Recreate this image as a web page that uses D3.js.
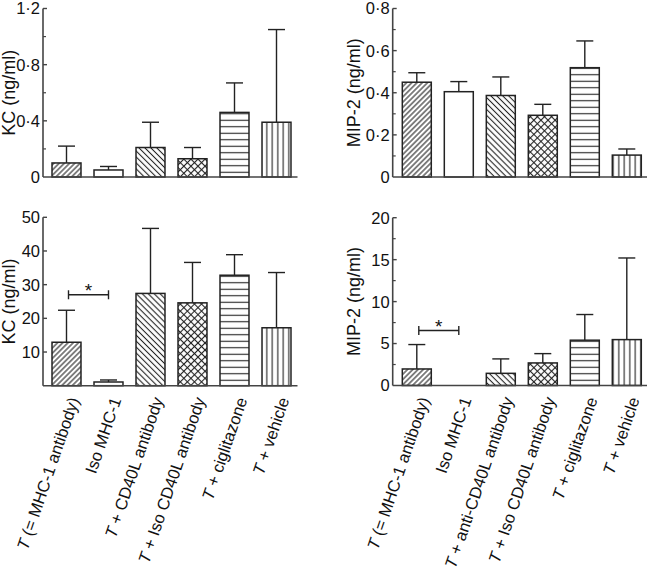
<!DOCTYPE html>
<html><head><meta charset="utf-8">
<script src="https://cdn.jsdelivr.net/npm/d3@7"></script>
<style>
body{margin:0;background:#fff;}
svg{display:block;font-family:"Liberation Sans",Arial,Helvetica,sans-serif;}
</style></head>
<body><svg id="c" width="647" height="573"></svg>
<script>
// ---- data ----
const groups = ["g1","g2","g3","g4","g5","g6"];
const labelsLeft = ["(= MHC-1 antibody)", "Iso MHC-1", "+ CD40L antibody", "+ Iso CD40L antibody", "+ ciglitazone", "+ vehicle"];
const labelsRight = ["(= MHC-1 antibody)", "Iso MHC-1", "+ anti-CD40L antibody", "+ Iso CD40L antibody", "+ ciglitazone", "+ vehicle"];
const italicT = [true, false, true, true, true, true];
const patterns = ["fwd","none","back","cross","horiz","vert"];

const kcTopMean = [0.10, 0.05, 0.21, 0.13, 0.46, 0.39];
const kcTopSem  = [0.12, 0.025, 0.18, 0.08, 0.21, 0.66];
const mipTopMean = [0.45, 0.405, 0.387, 0.293, 0.519, 0.104];
const mipTopSem  = [0.045, 0.048, 0.088, 0.052, 0.127, 0.029];
const kcBotMean = [12.9, 1.1, 27.4, 24.6, 32.8, 17.2];
const kcBotSem  = [9.5, 0.6, 19.3, 12.0, 6.1, 16.4];
const mipBotMean = [1.97, 0, 1.45, 2.69, 5.4, 5.47];
const mipBotSem  = [2.91, 0, 1.72, 1.11, 3.06, 9.73];

const kcTopTicks = [0, 0.4, 0.8, 1.2];
const kcTopMinor = [0.2, 0.6, 1.0];
const mipTopTicks = [0, 0.2, 0.4, 0.6, 0.8];
const mipTopMinor = [0.1, 0.3, 0.5, 0.7];
const kcBotTicks = [10, 20, 30, 40, 50];
const kcBotMinor = [];
const mipBotTicks = [0, 5, 10, 15, 20];
const mipBotMinor = [2.5, 7.5, 12.5, 17.5];

// significance brackets: [from index, to index, value]
const kcBotSig = [0, 1, 27];
const mipBotSig = [0, 1, 6.55];

const svg = d3.select("#c");
const ink = "#222";

// ---- patterns ----
const defs = svg.append("defs");
function linePattern(id, size, angle, cross){
  const p = defs.append("pattern").attr("id", id).attr("patternUnits","userSpaceOnUse")
    .attr("width", size).attr("height", size)
    .attr("patternTransform", `rotate(${angle})`);
  p.append("rect").attr("width", size).attr("height", size).attr("fill","#fff");
  p.append("line").attr("x1", size/2).attr("x2", size/2).attr("y1", -1).attr("y2", size+1)
    .attr("stroke", ink).attr("stroke-width", 1.1);
  if (cross) p.append("line").attr("y1", size/2).attr("y2", size/2).attr("x1", -1).attr("x2", size+1)
    .attr("stroke", ink).attr("stroke-width", 1.1);
}
linePattern("fwd", 3.7, 45, false);
linePattern("back", 4.2, -45, false);
linePattern("cross", 5, 45, true);
linePattern("horiz", 6.5, 90, false);
linePattern("vert", 5.5, 0, false);

function fmt(v){ return String(v).replace(".", "\u00b7"); }

function panel(cfg){
  const g = svg.append("g");
  const x = d3.scaleBand().domain(groups).range(cfg.band).paddingInner(0.31).paddingOuter(0.155);
  const y = d3.scaleLinear().domain([0, cfg.max]).range([cfg.y0, cfg.yTop]);

  // bars
  cfg.mean.forEach((m, i) => {
    if (m <= 0) return;
    const bx = x(groups[i]), bw = x.bandwidth(), cx = bx + bw/2;
    const top = y(m + cfg.sem[i]);
    g.append("line").attr("x1", cx).attr("x2", cx).attr("y1", y(m)).attr("y2", top)
      .attr("stroke", ink).attr("stroke-width", 1.4);
    g.append("line").attr("x1", cx - 8.5).attr("x2", cx + 8.5).attr("y1", top).attr("y2", top)
      .attr("stroke", ink).attr("stroke-width", 1.4);
    g.append("rect").attr("x", bx).attr("y", y(m)).attr("width", bw).attr("height", y(0) - y(m))
      .attr("fill", patterns[i] === "none" ? "#fff" : `url(#${patterns[i]})`)
      .attr("stroke", ink).attr("stroke-width", 1.5);
  });

  // axes lines
  g.append("line").attr("x1", cfg.axisX).attr("x2", cfg.axisX).attr("y1", y(cfg.max)).attr("y2", y(0))
    .attr("stroke", "#444").attr("stroke-width", 1.6);
  g.append("line").attr("x1", cfg.axisX).attr("x2", cfg.band[1]).attr("y1", y(0)).attr("y2", y(0))
    .attr("stroke", "#444").attr("stroke-width", 1.6);

  // ticks
  cfg.ticks.forEach(t => {
    if (t !== 0) g.append("line").attr("x1", cfg.axisX).attr("x2", cfg.axisX + 4)
      .attr("y1", y(t)).attr("y2", y(t)).attr("stroke", "#444").attr("stroke-width", 1.4);
    g.append("text").attr("x", cfg.axisX - 3).attr("y", y(t)).attr("dy", "0.36em")
      .attr("text-anchor", "end").attr("font-size", 16.5).attr("fill", "#111").text(fmt(t));
  });
  cfg.minor.forEach(t => {
    g.append("line").attr("x1", cfg.axisX).attr("x2", cfg.axisX + 3)
      .attr("y1", y(t)).attr("y2", y(t)).attr("stroke", "#444").attr("stroke-width", 1.2);
  });

  // y title
  g.append("text").attr("transform", `translate(${cfg.titleX},${(y(0)+y(cfg.max))/2}) rotate(-90)`)
    .attr("text-anchor", "middle").attr("font-size", 18).attr("fill", "#111").text(cfg.title);

  // significance
  if (cfg.sig){
    const [a, b, v] = cfg.sig;
    const x1 = x(groups[a]) + x.bandwidth()/2 + 2, x2 = x(groups[b]) + x.bandwidth()/2;
    const yy = y(v);
    g.append("line").attr("x1", x1).attr("x2", x2).attr("y1", yy).attr("y2", yy).attr("stroke", ink).attr("stroke-width", 1.4);
    [x1, x2].forEach(xx => g.append("line").attr("x1", xx).attr("x2", xx).attr("y1", yy - 4.5).attr("y2", yy + 4.5)
      .attr("stroke", ink).attr("stroke-width", 1.4));
    g.append("text").attr("x", (x1 + x2)/2).attr("y", yy + 2).attr("text-anchor", "middle")
      .attr("font-size", 19).attr("fill", "#111").text("*");
  }

  // x labels
  if (cfg.labels){
    cfg.labels.forEach((lab, i) => {
      const cx = x(groups[i]) + x.bandwidth()/2;
      const t = g.append("text").attr("transform", `translate(${cx + 13},${y(0) + 14}) rotate(-71)`)
        .attr("text-anchor", "end").attr("font-size", 16.6).attr("fill", "#111");
      if (italicT[i]){
        t.append("tspan").attr("font-style", "italic").text("T");
        t.append("tspan").text(" " + lab);
      } else t.text(lab);
    });
  }
}

panel({band:[45.5, 297.5], axisX:43, y0:177, yTop:8.5, max:1.2, mean:kcTopMean, sem:kcTopSem,
  ticks:kcTopTicks, minor:kcTopMinor, title:"KC (ng/ml)", titleX:15});
panel({band:[395.8, 647.8], axisX:392.7, y0:177, yTop:8.5, max:0.8, mean:mipTopMean, sem:mipTopSem,
  ticks:mipTopTicks, minor:mipTopMinor, title:"MIP-2 (ng/ml)", titleX:360});
panel({band:[45.5, 297.5], axisX:43, y0:385.7, yTop:217.3, max:50, mean:kcBotMean, sem:kcBotSem,
  ticks:kcBotTicks, minor:kcBotMinor, title:"KC (ng/ml)", titleX:15, sig:kcBotSig, labels:labelsLeft});
panel({band:[395.8, 647.8], axisX:392.7, y0:385.5, yTop:217.7, max:20, mean:mipBotMean, sem:mipBotSem,
  ticks:mipBotTicks, minor:mipBotMinor, title:"MIP-2 (ng/ml)", titleX:360, sig:mipBotSig, labels:labelsRight});
</script></body></html>
